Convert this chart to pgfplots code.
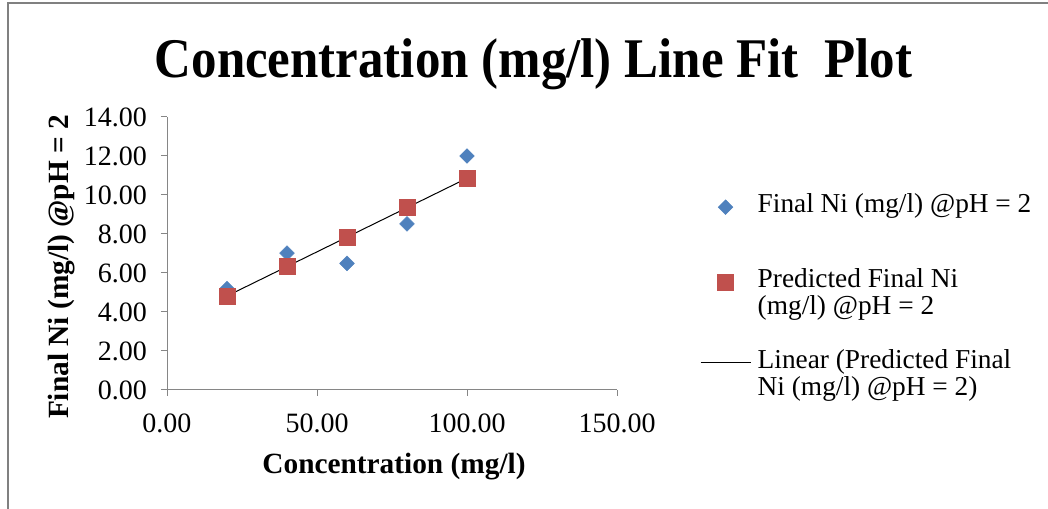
\documentclass[border=0pt]{standalone}
\usepackage{pgfplots}
\pgfplotsset{compat=1.18}
\usepackage{fontspec}
\setmainfont{Liberation Serif}
\definecolor{xlblue}{HTML}{4F81BD}
\definecolor{xlred}{HTML}{C0504D}
\definecolor{xlgray}{HTML}{868686}
\definecolor{framegray}{HTML}{808080}

\begin{document}
\begin{tikzpicture}
\path[use as bounding box] (0,0) rectangle (786pt,381.75pt);
% chart frame (only left and top edges are visible)
\draw[framegray, line width=1.5pt] (6pt,0) -- (6pt,379.5pt) -- (786pt,379.5pt);

\begin{axis}[
  at={(125.25pt,89.25pt)}, anchor=south west,
  width=337.5pt, height=204.75pt, scale only axis,
  xmin=0, xmax=150, ymin=0, ymax=14,
  xtick={0,50,100,150}, ytick={0,2,...,14},
  axis lines*=left,
  axis line style={xlgray, line width=0.75pt},
  tick style={xlgray, line width=0.75pt},
  tick align=outside, major tick length=4.5pt,
  ticklabel style={font=\fontsize{21}{24}\selectfont},
  xticklabel style={yshift=-10pt},
  yticklabel style={xshift=-7pt},
  /pgf/number format/.cd, fixed, fixed zerofill, precision=2, assume math mode=true,
  /pgfplots/.cd,
  legend image code/.code={\draw[mark repeat=2, mark phase=2, #1]
    plot coordinates {(0pt,-10.5pt) (18.75pt,-10.5pt) (37.5pt,-10.5pt)};},
  legend style={draw=none, fill=none, inner sep=0pt,
    at={(1.184,0.722)}, anchor=north west,
    font=\fontsize{20.5}{20.25}\selectfont,
    nodes={anchor=north west, align=left, inner sep=0pt},
    row sep=24.5pt,
    /tikz/every odd column/.append style={column sep=5pt}},
]
\addplot[only marks, mark=diamond*, mark size=5.5pt, color=xlblue,
  mark options={xscale=1.33}]
  coordinates {(20,5.2) (40,7.02) (60,6.49) (80,8.52) (100,12.0)};
\addlegendentry{Final Ni (mg/l) @pH = 2\\[-4.5pt]\mbox{}}
\addplot[only marks, mark=square*, mark size=6pt, color=xlred]
  coordinates {(20,4.82) (40,6.33) (60,7.84) (80,9.35) (100,10.86)};
\addlegendentry{Predicted Final Ni\\(mg/l) @pH = 2}
\addplot[black, line width=0.75pt, no marks]
  coordinates {(20,4.82) (100,10.86)};
\addlegendentry{Linear (Predicted Final\\Ni (mg/l) @pH = 2)}
\end{axis}

\node[anchor=base] at (400pt,323.25pt)
  {\scalebox{0.91}[1]{\fontsize{42}{42}\selectfont\bfseries Concentration (mg/l) Line Fit\ \ Plot}};
\node[anchor=base] at (295.5pt,26.25pt)
  {\fontsize{22}{22}\selectfont\bfseries Concentration (mg/l)};
\node[anchor=base, rotate=90] at (51pt,181.5pt)
  {\fontsize{22}{22}\selectfont\bfseries Final Ni (mg/l) @pH = 2};
\end{tikzpicture}
\end{document}
